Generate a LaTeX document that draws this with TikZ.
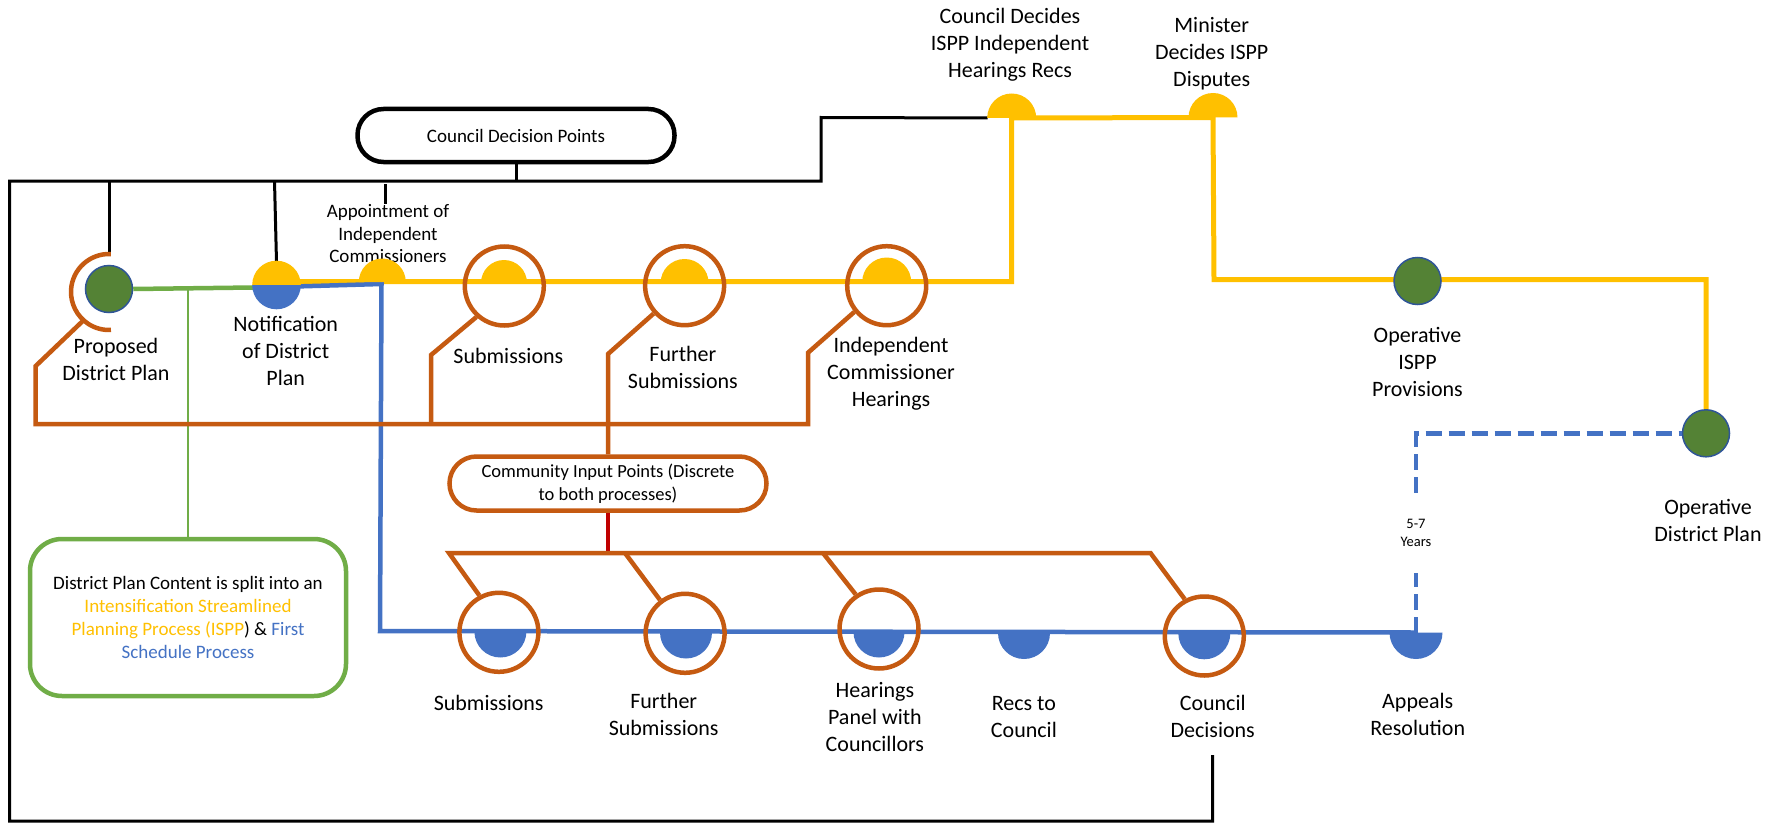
\documentclass[tikz,border=0pt]{standalone}
\usepackage{fontspec}
\setmainfont{Carlito}
\usetikzlibrary{calc}
\definecolor{cOrg}{HTML}{C55A11}
\definecolor{cYel}{HTML}{FFC000}
\definecolor{cBlu}{HTML}{4472C4}
\definecolor{cGrn}{HTML}{548235}
\definecolor{cGrnE}{HTML}{2F5597}
\definecolor{cLGrn}{HTML}{70AD47}
\definecolor{cRed}{HTML}{C00000}
\newcommand\mySemiUp[3]{\fill[#1] (#2) ++(-#3pt,0pt) arc[start angle=180,end angle=0,radius=#3pt] -- cycle;}
\newcommand\mySemiDn[3]{\fill[#1] (#2) ++(-#3pt,0pt) arc[start angle=180,end angle=360,radius=#3pt] -- cycle;}
\begin{document}
\begin{tikzpicture}[x=1pt,y=-1pt,
  blk/.style={draw=black,line width=3pt},
  yel/.style={draw=cYel,line width=5pt},
  blu/.style={draw=cBlu,line width=4.5pt},
  org/.style={draw=cOrg,line width=4.5pt},
  ring/.style={circle,draw=cOrg,line width=4.5pt,minimum size=79pt,inner sep=0pt},
  gdot/.style={circle,fill=cGrn,draw=cGrnE,line width=1.5pt,minimum size=47pt,inner sep=0pt},
  lbl/.style={font=\fontsize{22}{27}\selectfont,align=center,inner sep=0pt},
  sml/.style={font=\fontsize{19}{22.5}\selectfont,align=center,inner sep=0pt}]
\fill[white] (0,0) rectangle (1784,824);
\path[use as bounding box] (0,0) rectangle (1784,824);

% ---------- coordinates ----------
\coordinate (notif) at (276.5,285);
\coordinate (notifY) at (295,281.5);
\coordinate (notifB) at (295,286.5);
\coordinate (notifG) at (253,287.5);
\coordinate (appt) at (382.3,282);
\coordinate (semSubU) at (504,283);
\coordinate (semFurU) at (684.6,283);
\coordinate (semInd) at (886.7,282);
\coordinate (yA) at (1011.7,281.5);
\coordinate (cdec) at (1011.7,118);
\coordinate (mini) at (1213,117.5);
\coordinate (yB) at (1214,279.5);
\coordinate (yC) at (1706,279.5);
\coordinate (bA) at (381.5,284);
\coordinate (bB) at (380,631);
\coordinate (semSubL) at (500.4,631.5);
\coordinate (semFurL) at (686,632.5);
\coordinate (semHear) at (879,632);
\coordinate (recs) at (1024,633);
\coordinate (semCD) at (1204.3,633.3);
\coordinate (appeals) at (1416,632.5);
\coordinate (dC) at (1416,433.3);
\coordinate (propring) at (109,292);

% frame coordinates
\coordinate (fCD) at (1212.7,755);
\coordinate (fBR) at (1212.7,821);
\coordinate (fBL) at (9.5,821);
\coordinate (fTL) at (9.5,181);
\coordinate (fS1) at (821,181);
\coordinate (fS2) at (821,117.5);
\coordinate (fEnd) at (987.5,118);
\coordinate (jP) at (109,181);
\coordinate (jPb) at (109,254);
\coordinate (jN) at (274.5,181);
\coordinate (jNb) at (276.5,262);
\coordinate (jA) at (385,184);
\coordinate (jC) at (516,181);

% ---------- boxes ----------
\node[draw=black,line width=4.5pt,rounded corners=26pt,minimum width=317pt,minimum height=53pt,inner sep=0pt,
      font=\fontsize{19}{22.5}\selectfont] (cdp) at (516,135.5) {Council Decision Points};
\node[draw=cOrg,line width=4.5pt,rounded corners=27pt,minimum width=317pt,minimum height=54pt,inner sep=0pt,
      align=center,font=\fontsize{18.5}{22.7}\selectfont] (cip) at (608,483.5) {Community Input Points (Discrete\\to both processes)};
\node[draw=cLGrn,line width=4.5pt,rounded corners=32pt,minimum width=316pt,minimum height=157pt,inner sep=0pt,
      align=center,font=\fontsize{19}{23}\selectfont] (gbox) at (188,617.5)
      {District Plan Content is split into an\\
       \textcolor{cYel}{Intensification Streamlined}\\
       \textcolor{cYel}{Planning Process (ISPP}) \& \textcolor{cBlu}{First}\\
       \textcolor{cBlu}{Schedule Process}};

% ---------- text labels ----------
\node[lbl] (tProp) at (116,359) {Proposed\\District Plan};
\node[lbl] (tNotif) at (285.7,351.3) {Notification\\of District\\Plan};
\node[sml] (tAppt) at (388,233.8) {Appointment of\\Independent\\Commissioners};
\node[lbl] (tSubU) at (508.4,356) {Submissions};
\node[lbl] (tFurU) at (682.9,367) {Further\\Submissions};
\node[lbl] (tInd) at (891,374) {Independent\\Commissioner\\Hearings};
\node[lbl] (tCdec) at (1010,45) {Council Decides\\ISPP Independent\\Hearings Recs};
\node[lbl] (tMini) at (1211.7,54) {Minister\\Decides ISPP\\Disputes};
\node[lbl] (tOI) at (1417.5,362) {Operative\\ISPP\\Provisions};
\node[lbl] (tODP) at (1708,520.5) {Operative\\District Plan};
\node[lbl] (tSubL) at (488.7,703.3) {Submissions};
\node[lbl] (tFurL) at (663.7,714) {Further\\Submissions};
\node[lbl] (tHear) at (874.9,717) {Hearings\\Panel with\\Councillors};
\node[lbl] (tRecs) at (1023.9,717) {Recs to\\Council};
\node[lbl] (tCD) at (1212.7,716.7) {Council\\Decisions};
\node[lbl] (tApp) at (1417.7,714.5) {Appeals\\Resolution};
\node[align=center,inner sep=0pt,minimum height=80pt,minimum width=36pt,
      font=\fontsize{14.5}{18}\selectfont] (yrs) at (1416,533) {5-7\\Years};

% ---------- lines ----------
\draw[blk] (fCD) -- (fBR) -- (fBL) -- (fTL) -- (fS1) -- (fS2) -- (fEnd);
\draw[blk] (jP) -- (jPb);
\draw[blk] (jN) -- (jNb);
\draw[blk] (jA) -- (jA |- tAppt.north);
\draw[blk] (cdp.south) -- (jC);

\draw[yel] (notifY) -- (yA) -- (cdec) -- (mini) -- (yB) -- (yC) -- (1706,412);
\draw[blu] (notifB) -- (bA) -- (bB) -- (appeals);
\draw[cLGrn,line width=1.2pt] (188,288) -- (gbox.north);
\draw[cRed,line width=3.5pt] (cip.south) -- (608,553);

% ---------- nodes: green dots and rings ----------
\node[gdot] (gProp) at (109,289) {};
\node[gdot] (gOI) at (1417.5,281) {};
\node[gdot] (odp) at (1706,433.3) {};
\draw[cLGrn,line width=4.5pt] (gProp.east) -- (notifG);
\draw[blu,dash pattern=on 16pt off 7pt] (appeals) -- (yrs.south);
\draw[blu,dash pattern=on 16pt off 7pt] (yrs.north) -- (dC) -- (odp.west);

\node[ring] (rSubU) at (504.3,286) {};
\node[ring] (rFurU) at (684.6,285.7) {};
\node[ring] (rInd) at (886.7,285.7) {};
\node[ring] (rSubL) at (498.9,632.3) {};
\node[ring] (rFurL) at (685.1,633.3) {};
\node[ring] (rHear) at (879,629) {};
\node[ring] (rCD) at (1204.3,636) {};

% ---------- semicircles ----------
\mySemiUp{cYel}{notif}{24.3}
\mySemiDn{cBlu}{notif}{24.3}
\mySemiUp{cYel}{appt}{23.5}
\mySemiUp{cYel}{semSubU}{23}
\mySemiUp{cYel}{semFurU}{24}
\mySemiUp{cYel}{semInd}{24.5}
\mySemiUp{cYel}{cdec}{24.5}
\mySemiUp{cYel}{mini}{24.5}
\mySemiDn{cBlu}{semSubL}{26}
\mySemiDn{cBlu}{semFurL}{26}
\mySemiDn{cBlu}{semHear}{25.5}
\mySemiDn{cBlu}{recs}{26}
\mySemiDn{cBlu}{semCD}{26}
\mySemiDn{cBlu}{appeals}{26.5}

% ---------- orange connectors ----------
\draw[org] (propring) ++(87:38pt) arc[start angle=87,end angle=273,radius=38pt];
\draw[org] (propring) ++(228:38pt) -- (35.7,366) -- (35.7,424) -- (808,424) -- (808,352.7) -- (rInd.219);
\draw[org] (rSubU.228) -- (431,355) -- (431,424);
\draw[org] (rFurU.222) -- (608,354) -- (cip.north);
\draw[org] (rSubL.118) -- (449,553) -- (1150.5,553) -- (rCD.118);
\draw[org] (625,553) -- (rFurL.127);
\draw[org] (823,553) -- (rHear.124);
\end{tikzpicture}
\end{document}
